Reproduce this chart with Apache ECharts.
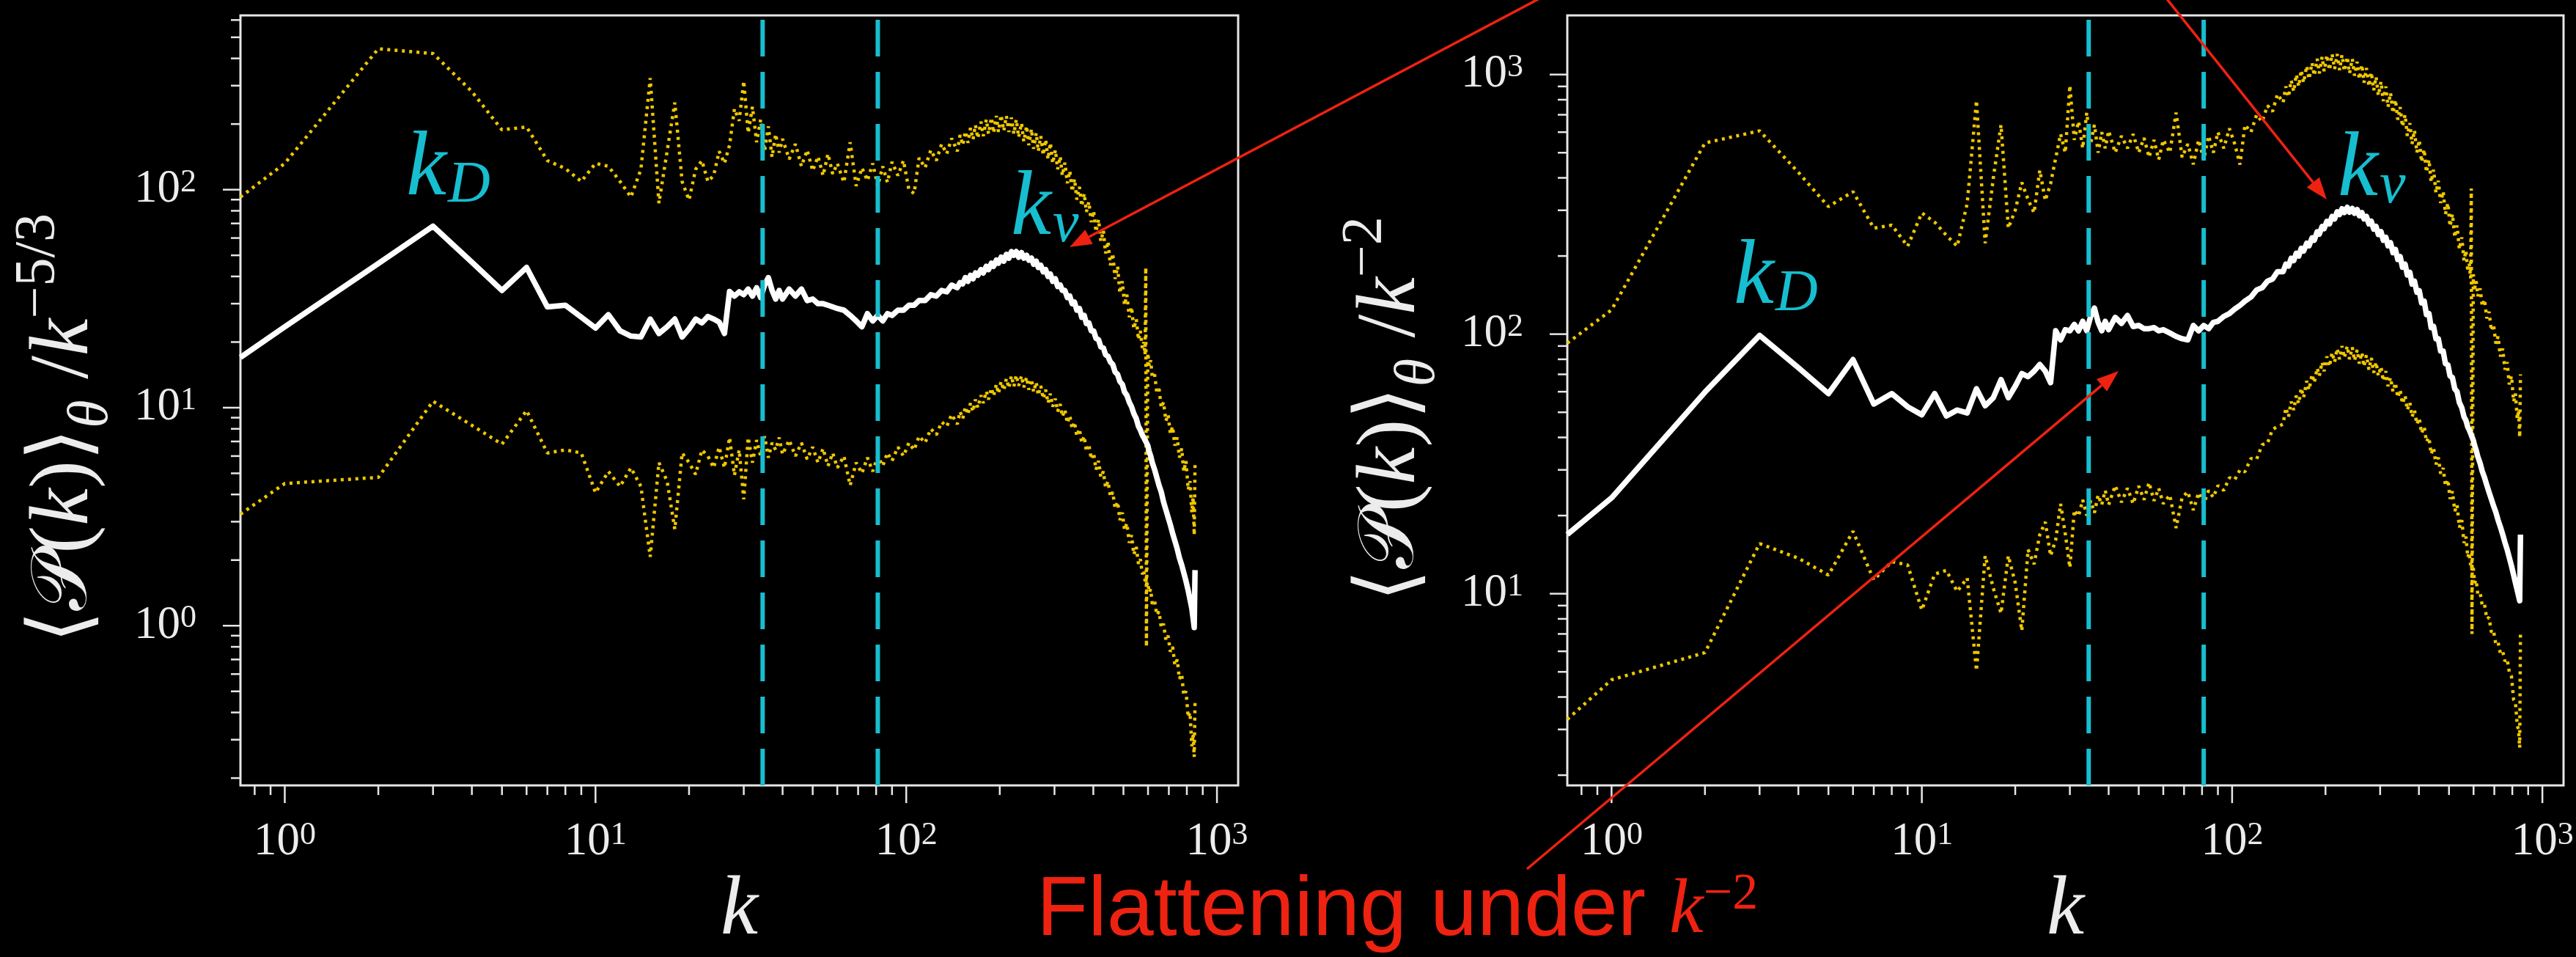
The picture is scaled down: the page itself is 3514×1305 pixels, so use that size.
<!DOCTYPE html>
<html>
<head>
<meta charset="utf-8">
<script src="https://cdn.jsdelivr.net/npm/echarts@6/dist/echarts.min.js"></script>
<style>
  html, body { margin: 0; padding: 0; background: #000; }
  #chart { width: 3514px; height: 1305px; }
</style>
</head>
<body>
<div id="chart"></div>
<script>
// Wavenumbers shared by every spectrum
const waveNumbers = [0.72,1,2,3,4,5,6,7,8,9,10,11,12,13,14,15,16,17,18,19,20,21,22,23,24,25,26,27,28,29,
  30,31,32,33,34,35,36,37,38,39,40,42,44,46,48,50,52,54,56,58,60,
  63,66,69,72,75,78,81,84,87,90,94,98,102,106,110,115,120,125,130,135,140,
  146,149,152,155,158,161,164,167,170,174,
  177,181,184,188,191,195,198,202,206,210,
  214,218,222,226,230,235,239,244,248,253,
  257,262,266,271,276,281,286,291,296,302,
  307,313,318,324,330,336,342,348,354,361,
  367,374,380,387,394,401,408,416,423,431,
  438,446,454,462,470,479,487,496,504,513,
  522,531,540,550,559,567,575,581,587,590,
  593,599,605,612,619,630,640,651,662,673,
  685,696,708,720,732,745,757,770,782,795,
  808,819,830,838,845,850];

// <P(k)>_theta compensated by k^-5/3 : mean, upper and lower envelopes
const compA_mean = [17.0,23.5,45.8,68,46.5,34.5,44,29,29.5,26,23.2,26.7,22.5,21.3,21.1,25.5,21.9,23.5,25.5,21.1,23,25.5,24.5,26.2,25.5,24.7,21.9,34.1,32.5,34,
  33,35,32.5,35.5,32,36.5,39.5,34.5,31.5,34.5,31.5,35,32.5,35,31,31.5,30,30,29.5,29,28.5,
  28,26.5,25,23.5,27,25,26.5,25,27,26.5,28,28,29.5,29.5,31,31,33,32.5,34.5,34,36.5,
  35.5,37.5,37,39.5,38,40.5,39,41.5,40.5,43,
  41.5,44.5,43,46,44.5,47.5,46,49,47,50.5,
  48.5,52,50,52,49,51.5,48.5,50,47.5,48.5,
  45.5,47,44,45,42,43,40,41,38,39,
  36,36.5,34.5,34.5,32,32.5,30,30.5,28,28.5,
  26,26.5,24.3,24.5,22.5,22.5,20.8,20.5,19,18.8,
  17.5,17.2,16.2,15.8,14.6,14.2,13.2,12.8,11.8,11.4,
  10.6,10.1,9.4,8.9,8.2,7.9,7.5,7.3,7.1,7.0,
  6.9,6.7,6.3,6.0,5.6,5.2,4.8,4.4,4.1,3.7,
  3.4,3.15,2.9,2.65,2.45,2.25,2.05,1.9,1.75,1.6,
  1.45,1.32,1.2,1.08,0.98,1.8];
const compA_upper = [92.5,132,443,421,282,188,194,136,125,109,132,128,109,92.5,124,325,86.6,150,251,109,89.6,124,136,109,116,150,132,160,235,207,
  315,182,240,165,210,150,195,141,180,148,171,138,162,128,152,122,142,116,146,118,132,
  108,165,104,126,110,132,104,128,108,134,116,136,100,96,140,126,152,136,162,146,172,
  150,178,160,185,164,192,170,198,172,205,
  176,210,180,214,182,218,184,220,186,218,
  184,214,180,210,174,202,166,196,160,190,
  154,182,150,176,144,170,138,164,132,152,
  124,142,116,133,107,122,98,112,90,103,
  84,96,79,88,71,80,64,73,58,65,
  51,58,45,51,39,44.5,33.5,38,29.5,33,
  26,29,23,25.5,20.5,22.5,18.8,20,17.5,44,
  0.8,17.8,15.5,16.5,13.8,14.2,11.8,12.2,10,10.6,
  8.7,9.3,7.6,8.2,6.7,7.3,5.9,6.5,5.1,5.7,
  4.2,4.6,3.3,3.9,2.6,5.6];
const compA_lower = [3.25,4.49,4.79,10.7,8.3,6.8,9.7,6.2,6.4,6.2,4.07,5.1,4.35,5.3,4.35,2.07,5.6,4.6,2.77,6.2,5.6,4.94,6.4,6.0,5.3,6.6,5.3,7.3,4.9,6.4,
  3.8,7.3,5.6,7.1,6.0,7.4,5.9,6.9,6.4,7.3,6.1,7.1,6.0,6.9,5.8,6.6,5.6,6.5,5.4,6.2,5.3,
  6.0,4.4,5.6,5.0,5.9,5.1,6.0,5.4,6.2,5.7,6.6,6.0,6.9,6.4,7.4,6.9,8.0,7.5,8.6,8.2,9.3,
  8.4,9.6,8.9,10.1,9.3,10.5,9.6,10.9,10.0,11.4,
  10.5,11.9,10.9,12.3,11.3,12.8,11.6,13.2,12.0,13.6,
  12.3,14.0,12.5,14.1,12.6,14.0,12.4,13.8,12.1,13.5,
  11.8,13.1,11.4,12.6,11.0,12.1,10.5,11.6,10.1,11.0,
  9.6,10.4,9.1,9.8,8.5,9.2,8.0,8.6,7.4,8.0,
  6.9,7.4,6.3,6.8,5.8,6.2,5.2,5.7,4.8,5.1,
  4.3,4.6,3.9,4.1,3.45,3.7,3.05,3.3,2.75,2.95,
  2.4,2.6,2.12,2.3,1.92,2.02,1.72,1.8,1.6,1.66,
  1.52,1.58,1.42,1.47,1.26,1.3,1.12,1.16,0.98,1.02,
  0.86,0.9,0.76,0.8,0.66,0.7,0.57,0.6,0.48,0.5,
  0.38,0.4,0.28,0.32,0.25,0.45];

// <P(k)>_theta compensated by k^-2 : mean, upper and lower envelopes
const compB_mean = [16.9,23.4,59.8,98.9,74.3,59,79.8,53.8,59,52.5,48.9,59,48.4,51,49.7,61.6,53,56.9,66.8,56.9,63,70.5,68.6,72,76.4,72,65,103,95,104,
  103,109,103,112,103,117,126,111,103,112,104,116,110,118,107,108,105,105,106,103,104,
  101,98,96,95,108,103,108,105,111,112,117,120,125,129,134,139,148,151,160,163,174,
  174,186,183,196,192,205,200,214,209,224,
  219,235,230,248,243,260,255,272,266,284,
  278,296,289,304,294,308,295,305,292,302,
  286,294,278,284,266,272,254,260,242,248,
  230,236,219,225,206,212,194,199,181,186,
  169,173,156,160,145,147,132,134,119,120,
  106,107,96,96,86,86,77,76,69,68,
  61.5,60,54.5,52,48,46.5,43.8,42.8,41.5,40.8,
  40.2,39,37.2,35.6,33.8,31.8,29.6,28,26.2,24.6,
  23.1,21.8,20.6,19.2,18.1,16.9,15.8,14.8,13.8,12.8,
  11.8,11,10.3,9.8,9.4,16.9];
const compB_upper = [92.3,124,545,607,420,310,354,256,263,218,293,270,240,218,318,794,224,400,640,256,300,384,330,293,428,327,380,476,590,500,
  908,560,660,520,713,540,640,500,600,520,607,500,580,520,590,500,570,480,560,470,560,
  500,713,480,540,451,560,470,580,500,600,520,620,540,450,640,600,700,658,760,720,840,
  780,900,820,950,860,1000,900,1040,930,1080,
  960,1110,990,1150,1010,1170,1030,1190,1040,1200,
  1050,1200,1040,1190,1030,1170,1010,1150,990,1120,
  960,1090,930,1060,900,1020,870,980,830,940,
  790,900,750,850,710,800,670,750,630,700,
  580,650,540,610,500,560,460,515,420,470,
  385,430,350,390,320,355,290,320,260,290,
  236,262,212,236,192,210,174,188,164,364,
  7.0,170,150,160,140,150,128,136,115,122,
  103,109,92,98,82,88,73,78,64,69,
  55,59,47,51,40,70];
const compB_lower = [3.28,4.66,5.93,15.6,13.7,11.8,17.4,11.3,13.3,12.9,8.65,11.9,12.3,10.2,11.5,5.05,14,10.5,8.4,14,11,7.2,14.8,13,16.9,18.9,14,16.1,22.2,17,
  12.6,21,19.9,23,20,22.8,20.5,24,22,25,22,26.1,22.5,25.5,22.2,26,23,26.8,22.8,25.5,22.2,
  24,17.9,23.5,24.7,21,24.5,22.2,25,23.5,26.1,25,28,27.5,30,29.5,33.2,33,37.5,38,43,44,
  45,52,48,55,51,58,54,62,57,66,
  61,70,65,74,69,78,72,82,75,85,
  78,88,80,90,81,90,80,89,79,87,
  77,85,75,83,73,81,71,78,69,75,
  66,72,63,68,60,65,57,61,54,58,
  51,54.5,48,51,45,47.5,41.5,44,38.5,40,
  34.5,36.5,31.5,33.5,29,30.5,26,27.5,23.2,24.8,
  20.8,22,18,19.2,15.7,16.6,13.8,14.4,12.9,13.2,
  12.4,12.6,11.0,11.3,10.0,10.1,9.0,9.1,8.0,8.1,
  7.1,7.2,6.4,6.5,5.9,6.0,5.5,5.6,5.0,4.8,
  3.9,3.8,3.1,3.0,2.55,7.2];

// Bounds of the marked wavenumber band (dashed verticals)
const bandBounds = [34.5, 81];

// Tick positions
const xMajorTicks = [1, 10, 100, 1000];
const xMinorTicks = [0.8, 0.9, 2, 3, 4, 5, 6, 7, 8, 9, 20, 30, 40, 50, 60, 70, 80, 90, 200, 300, 400, 500, 600, 700, 800, 900];
const yMajorTicksA = [1, 10, 100];
const yMinorTicksA = [0.2, 0.3, 0.4, 0.5, 0.6, 0.7, 0.8, 0.9, 2, 3, 4, 5, 6, 7, 8, 9, 20, 30, 40, 50, 60, 70, 80, 90, 200, 300, 400, 500, 600];
const yMajorTicksB = [10, 100, 1000];
const yMinorTicksB = [2, 3, 4, 5, 6, 7, 8, 9, 20, 30, 40, 50, 60, 70, 80, 90, 200, 300, 400, 500, 600, 700, 800, 900];

// Axis ranges
const kRange = [0.72, 1170];
const yRangeA = [0.185, 630];
const yRangeB = [1.825, 1690];

const WHITE = '#ececec';
const GOLD = '#efc700';
const CYAN = '#17becf';
const RED = '#ee2211';
const SERIF = "'Liberation Serif', 'DejaVu Serif', serif";

const pairs = vals => waveNumbers.map((k, i) => [k, vals[i]]);

function tickData(yMajor, yMinor, yRange) {
  const d = [];
  xMajorTicks.forEach(v => d.push([v, yRange[0], 0, 1]));
  xMinorTicks.forEach(v => d.push([v, yRange[0], 0, 0]));
  yMajor.forEach(v => d.push([kRange[0], v, 1, 1]));
  yMinor.forEach(v => d.push([kRange[0], v, 1, 0]));
  return d;
}

function renderTick(params, api) {
  const cs = params.coordSys;
  const major = api.value(3) === 1;
  const len = major ? 24 : 13;
  const style = { stroke: '#e6e6e6', lineWidth: 2.5 };
  if (api.value(2) === 0) {
    const px = api.coord([api.value(0), api.value(1)])[0];
    const y0 = cs.y + cs.height;
    return { type: 'line', shape: { x1: px, y1: y0, x2: px, y2: y0 + len }, style };
  }
  const py = api.coord([api.value(0), api.value(1)])[1];
  return { type: 'line', shape: { x1: cs.x - len, y1: py, x2: cs.x, y2: py }, style };
}

function powerLabel(value) {
  const e = Math.log10(value);
  const r = Math.round(e);
  if (Math.abs(e - r) > 1e-6) return '';
  return '{b|10}{s|' + r + '}';
}

const tickRich = {
  b: { fontFamily: SERIF, fontSize: 63, lineHeight: 63, color: WHITE },
  s: { fontFamily: SERIF, fontSize: 44, lineHeight: 32, color: WHITE, verticalAlign: 'top' }
};

function xAxisFor(gridIndex) {
  return {
    type: 'log', gridIndex, min: kRange[0], max: kRange[1],
    axisLine: { show: false }, axisTick: { show: false }, splitLine: { show: false },
    axisLabel: { formatter: powerLabel, rich: tickRich, margin: 46, color: WHITE },
    name: 'k', nameLocation: 'middle', nameGap: 95,
    nameTextStyle: { fontFamily: SERIF, fontStyle: 'italic', fontSize: 115, color: WHITE }
  };
}

function yNameRich() {
  return {
    o: { fontFamily: SERIF, fontSize: 114, lineHeight: 150, color: WHITE },
    p: { fontFamily: "'DejaVu Serif', 'DejaVu Sans', serif", fontSize: 108, lineHeight: 150, color: WHITE },
    i: { fontFamily: SERIF, fontStyle: 'italic', fontSize: 114, lineHeight: 150, color: WHITE },
    sb: { fontFamily: SERIF, fontStyle: 'italic', fontSize: 78, lineHeight: 74, verticalAlign: 'bottom', color: WHITE },
    sp: { fontFamily: SERIF, fontSize: 78, lineHeight: 80, verticalAlign: 'top', color: WHITE }
  };
}

function yAxisFor(gridIndex, range, exponent, shift) {
  return {
    type: 'log', gridIndex, min: range[0], max: range[1],
    axisLine: { show: false }, axisTick: { show: false }, splitLine: { show: false },
    axisLabel: { formatter: powerLabel, rich: tickRich, margin: 60, color: WHITE },
    name: '{o|\u27E8}{p|\uD835\uDCAB}{o|(}{i|k}{o|)\u27E9}{sb|\u03B8}{o| /}{i|k}{sp|' + exponent + '}',
    nameLocation: 'middle', nameRotate: 90, nameGap: 164,
    nameTextStyle: { fontSize: 114, color: WHITE, rich: yNameRich(), padding: [0, shift, 0, 0] }
  };
}

function spectrumSeries(idx, mean, upper, lower, yRange) {
  const dotted = { color: GOLD, width: 4.5, type: [4, 6] };
  const list = [
    { type: 'line', xAxisIndex: idx, yAxisIndex: idx, data: pairs(upper), showSymbol: false, symbol: 'none', lineStyle: dotted, z: 2 },
    { type: 'line', xAxisIndex: idx, yAxisIndex: idx, data: pairs(lower), showSymbol: false, symbol: 'none', lineStyle: dotted, z: 2 },
    { type: 'line', xAxisIndex: idx, yAxisIndex: idx, data: pairs(mean), showSymbol: false, symbol: 'none',
      lineStyle: { color: '#ffffff', width: 7.5, join: 'round' }, z: 3 }
  ];
  bandBounds.forEach(b => list.push({
    type: 'line', xAxisIndex: idx, yAxisIndex: idx, data: [[b, yRange[0]], [b, yRange[1]]],
    showSymbol: false, symbol: 'none', lineStyle: { color: CYAN, width: 6, type: [50, 21] }, z: 5
  }));
  list.push({
    type: 'custom', xAxisIndex: idx, yAxisIndex: idx, data: tickData(
      idx === 0 ? yMajorTicksA : yMajorTicksB, idx === 0 ? yMinorTicksA : yMinorTicksB, yRange),
    renderItem: renderTick, clip: false, silent: true, z: 6
  });
  return list;
}

// Annotation texts and arrows
const markRich = {
  k: { fontFamily: SERIF, fontStyle: 'italic', fontSize: 124, lineHeight: 124, verticalAlign: 'top', fill: CYAN },
  d: { fontFamily: SERIF, fontStyle: 'italic', fontSize: 80, lineHeight: 80, verticalAlign: 'bottom', padding: [66, 0, 0, 2], fill: CYAN }
};
function markLabel(x, y, sub) {
  return { type: 'text', x, y, z: 20, style: { text: '{k|k}{d|' + sub + '}', rich: markRich, align: 'left', verticalAlign: 'top' } };
}

function arrow(from, to) {
  const dx = to[0] - from[0], dy = to[1] - from[1];
  const len = Math.hypot(dx, dy), ux = dx / len, uy = dy / len;
  const L = 30, W = 11;
  const bx = to[0] - ux * L, by = to[1] - uy * L;
  return [
    { type: 'line', z: 20, shape: { x1: from[0], y1: from[1], x2: bx, y2: by }, style: { stroke: RED, lineWidth: 3.5 } },
    { type: 'polygon', z: 20, shape: { points: [to, [bx - uy * W, by + ux * W], [bx + uy * W, by - ux * W]] }, style: { fill: RED } }
  ];
}

const graphics = [
  markLabel(554, 170, 'D'),
  markLabel(1379, 224, '\u03BD'),
  markLabel(2365, 318, 'D'),
  markLabel(3189, 171, '\u03BD'),
  {
    type: 'text', x: 1414, y: 1186, z: 20,
    style: {
      text: '{t|Flattening under }{k|k}{s|\u22122}', align: 'left', verticalAlign: 'top',
      rich: {
        t: { fontFamily: "'Liberation Sans', Arial, sans-serif", fontSize: 115, lineHeight: 115, fill: RED },
        k: { fontFamily: SERIF, fontStyle: 'italic', fontSize: 105, lineHeight: 115, fill: RED },
        s: { fontFamily: SERIF, fontSize: 70, lineHeight: 70, verticalAlign: 'top', fill: RED }
      }
    }
  },
  ...arrow([2134, -20], [1459, 337]),
  ...arrow([2941, -20], [3174, 272]),
  ...arrow([2083, 1185], [2890, 506])
];

const chart = echarts.init(document.getElementById('chart'), null, { renderer: 'canvas' });
chart.setOption({
  backgroundColor: '#000000',
  animation: false,
  grid: [
    { left: 328, top: 21, width: 1361, height: 1056, show: true, borderColor: '#e6e6e6', borderWidth: 3, backgroundColor: 'transparent' },
    { left: 2138, top: 21, width: 1359, height: 1056, show: true, borderColor: '#e6e6e6', borderWidth: 3, backgroundColor: 'transparent' }
  ],
  xAxis: [xAxisFor(0), xAxisFor(1)],
  yAxis: [yAxisFor(0, yRangeA, '\u22125/3', 76), yAxisFor(1, yRangeB, '\u22122', 24)],
  series: [
    ...spectrumSeries(0, compA_mean, compA_upper, compA_lower, yRangeA),
    ...spectrumSeries(1, compB_mean, compB_upper, compB_lower, yRangeB)
  ],
  graphic: graphics
});
</script>
</body>
</html>
